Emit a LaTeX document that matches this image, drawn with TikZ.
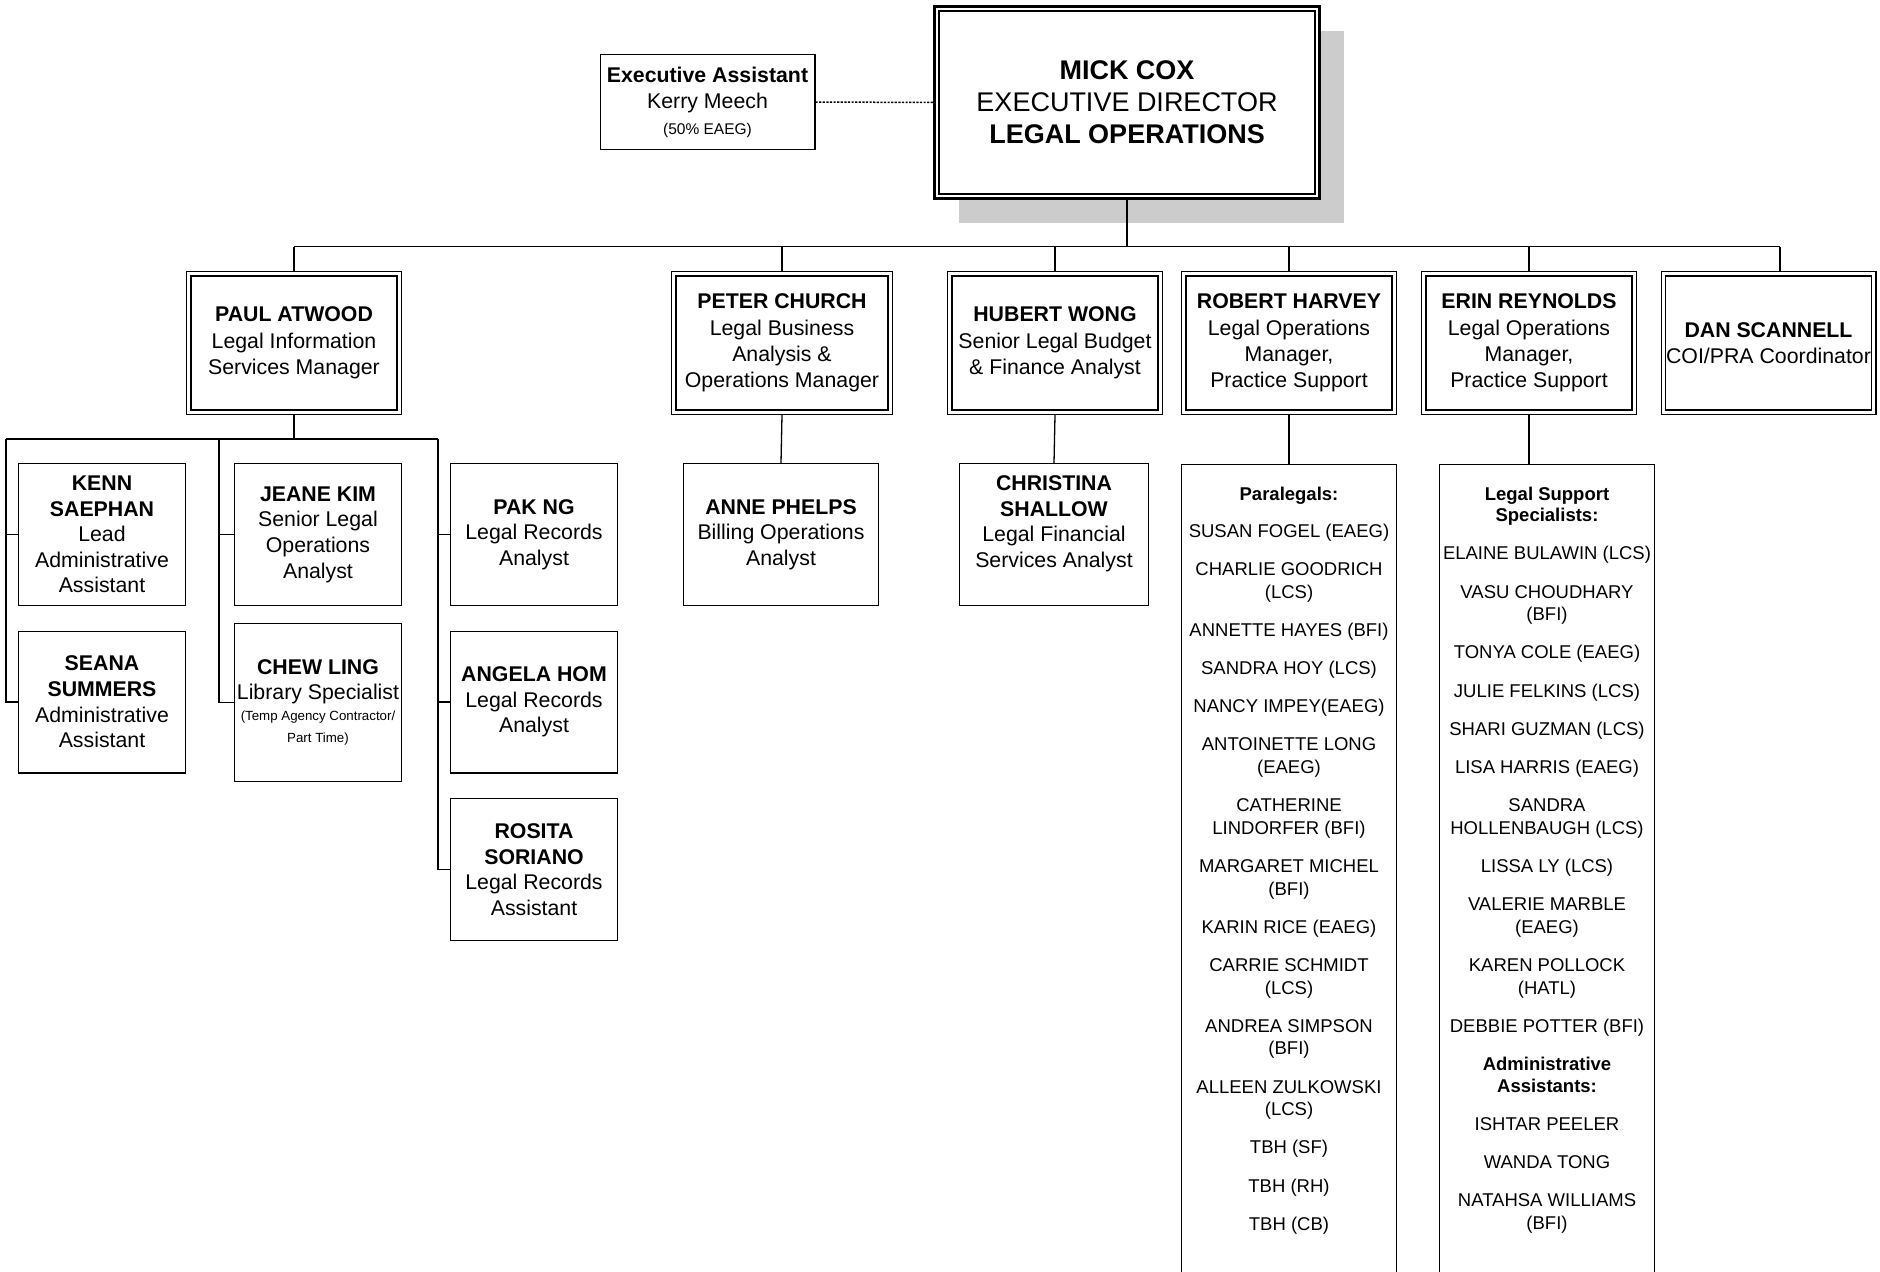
\documentclass[tikz,border=0pt]{standalone}
\usepackage{fontspec}
\setmainfont{Liberation Sans}
\usetikzlibrary{shadows}
\begin{document}
\begin{tikzpicture}[x=1pt,y=-1pt,
  conn/.style={line width=1.3pt},
  mgr/.style={draw, double, double distance=3pt, line width=1.3pt, fill=white, inner sep=0pt, outer sep=2.8pt,
    minimum width=210.4pt, minimum height=138.4pt, align=center, font=\fontsize{21.3}{26.4}\selectfont},
  staff/.style={draw, line width=1.3pt, fill=white, inner sep=0pt, outer sep=0.65pt,
    minimum width=166.7pt, minimum height=141.7pt, align=center, font=\fontsize{21.3}{25.6}\selectfont},
  listbox/.style={draw, line width=1.3pt, fill=white, inner sep=0pt, outer sep=0.65pt,
    minimum width=214.7pt, minimum height=840pt},
  listtext/.style={anchor=north, inner sep=0pt, align=center, font=\fontsize{18.5}{22.6}\selectfont}
]
\useasboundingbox (0,0) rectangle (1880,1272);
\fill[white] (0,0) rectangle (1880,1272);
\clip (0,0) rectangle (1880,1272);

% top
\node[draw, line width=3pt, fill=white, inner sep=0pt, outer sep=0pt,
  minimum width=385pt, minimum height=192pt, align=center,
  font=\fontsize{27}{31.8}\selectfont,
  drop shadow={shadow xshift=24.5pt, shadow yshift=-24pt, fill=black!20, opacity=1}]
  (mick) at (1127,102.5) {\textbf{MICK COX}\\EXECUTIVE DIRECTOR\\\textbf{LEGAL OPERATIONS}};
\draw[line width=2pt] ([xshift=4.5pt,yshift=-4.5pt]mick.north west) rectangle ([xshift=-4.5pt,yshift=4.5pt]mick.south east);

\node[draw, line width=1.3pt, fill=white, inner sep=0pt, outer sep=0.65pt,
  minimum width=214.7pt, minimum height=94.7pt, align=center,
  font=\fontsize{21.3}{26}\selectfont]
  (ea) at (707.5,102) {\textbf{Executive Assistant}\\Kerry Meech\\{\fontsize{15.5}{26}\selectfont (50\% EAEG)}};
\draw[line width=1.5pt, dash pattern=on 2.2pt off 1.4pt] (ea.east) -- (mick.west);

% managers
\node[mgr] (paul)   at (294,343)    {\textbf{PAUL ATWOOD}\\Legal Information\\Services Manager};
\node[mgr, minimum width=216.4pt] (peter) at (782,343) {\textbf{PETER CHURCH}\\Legal Business\\Analysis \&\\Operations Manager};
\node[mgr] (hubert) at (1055,343)   {\textbf{HUBERT WONG}\\Senior Legal Budget\\\& Finance Analyst};
\node[mgr] (robert) at (1289,343)   {\textbf{ROBERT HARVEY}\\Legal Operations\\Manager,\\Practice Support};
\node[mgr] (erin)   at (1529,343)   {\textbf{ERIN REYNOLDS}\\Legal Operations\\Manager,\\Practice Support};
\node[mgr] (dan)    at (1768.5,343) {\textbf{DAN SCANNELL}\\COI/PRA Coordinator};

\coordinate (busy) at (0,246.5);
\coordinate (dantop) at (1780,271);
\draw[conn] (mick.south) -- (mick.south |- busy);
\draw[conn] (paul.north |- busy) -- (dantop |- busy);
\foreach \m in {paul,peter,hubert,robert,erin}
  \draw[conn] (\m.north |- busy) -- (\m.north);
\draw[conn] (dantop |- busy) -- (dantop);

% Paul's staff
\node[staff] (kenn)   at (102,534.5) {\textbf{KENN}\\\textbf{SAEPHAN}\\Lead\\Administrative\\Assistant};
\node[staff] (seana)  at (102,702)   {\textbf{SEANA}\\\textbf{SUMMERS}\\Administrative\\Assistant};
\node[staff] (jeane)  at (318,534.5) {\textbf{JEANE KIM}\\Senior Legal\\Operations\\Analyst};
\node[staff, minimum height=157.7pt] (chew) at (318,702.5)
  {\textbf{CHEW LING}\\Library Specialist\\[-5pt]{\fontsize{13.3}{22.8}\selectfont (Temp Agency Contractor/}\\[-3pt]{\fontsize{13.3}{22.8}\selectfont Part Time)}};
\node[staff] (pak)    at (534,534.5) {\textbf{PAK NG}\\Legal Records\\Analyst};
\node[staff] (angela) at (534,702)   {\textbf{ANGELA HOM}\\Legal Records\\Analyst};
\node[staff] (rosita) at (534,869.5) {\textbf{ROSITA}\\\textbf{SORIANO}\\Legal Records\\Assistant};

\coordinate (c1) at (6,439);
\coordinate (c2) at (219,439);
\coordinate (c3) at (438,439);
\draw[conn] (paul.south) -- (paul.south |- c1);
\draw[conn] (c1) -- (c3);
\draw[conn] (c1) |- (seana.west);
\draw[conn] (c1 |- kenn.west) -- (kenn.west);
\draw[conn] (c2) |- (chew.west);
\draw[conn] (c2 |- jeane.west) -- (jeane.west);
\draw[conn] (c3) |- (rosita.west);
\draw[conn] (c3 |- pak.west) -- (pak.west);
\draw[conn] (c3 |- angela.west) -- (angela.west);

% Peter, Hubert staff
\node[staff, minimum width=194.7pt] (anne) at (781,534.5) {\textbf{ANNE PHELPS}\\Billing Operations\\Analyst};
\node[staff, minimum width=188.7pt] (christina) at (1054,534.5) {\textbf{CHRISTINA}\\\textbf{SHALLOW}\\Legal Financial\\Services Analyst\\\mbox{}};
\draw[conn] (peter.south) -- (anne.north);
\draw[conn] (hubert.south) -- (christina.north);

% lists
\node[listbox, anchor=north] (paral) at (1289,463.65) {};
\node[listbox, anchor=north] (lss)   at (1547,463.65) {};
\draw[conn] (robert.south) -- (robert.south |- paral.north);
\draw[conn] (erin.south) -- (erin.south |- lss.north);

\node[listtext] (paraltext) at (1289,486.5) {%
\textbf{Paralegals:}\\[14.5pt]
SUSAN FOGEL (EAEG)\\[15.6pt]
CHARLIE GOODRICH\\(LCS)\\[15.6pt]
ANNETTE HAYES (BFI)\\[15.6pt]
SANDRA HOY (LCS)\\[15.6pt]
NANCY IMPEY(EAEG)\\[15.6pt]
ANTOINETTE LONG\\(EAEG)\\[15.6pt]
CATHERINE\\LINDORFER (BFI)\\[15.6pt]
MARGARET MICHEL\\(BFI)\\[15.6pt]
KARIN RICE (EAEG)\\[15.6pt]
CARRIE SCHMIDT\\(LCS)\\[15.6pt]
ANDREA SIMPSON\\(BFI)\\[15.6pt]
ALLEEN ZULKOWSKI\\(LCS)\\[15.6pt]
TBH (SF)\\[15.6pt]
TBH (RH)\\[15.6pt]
TBH (CB)};

\node[listtext] (lsstext) at (1547,486.5) {%
\textbf{Legal Support}\\[-1pt]\textbf{Specialists:}\\[15.6pt]
ELAINE BULAWIN (LCS)\\[15.6pt]
VASU CHOUDHARY\\(BFI)\\[15.6pt]
TONYA COLE (EAEG)\\[15.6pt]
JULIE FELKINS (LCS)\\[15.6pt]
SHARI GUZMAN (LCS)\\[15.6pt]
LISA HARRIS (EAEG)\\[15.6pt]
SANDRA\\HOLLENBAUGH (LCS)\\[15.6pt]
LISSA LY (LCS)\\[15.6pt]
VALERIE MARBLE\\(EAEG)\\[15.6pt]
KAREN POLLOCK\\(HATL)\\[15.6pt]
DEBBIE POTTER (BFI)\\[15.6pt]
\textbf{Administrative}\\[-1pt]\textbf{Assistants:}\\[15.6pt]
ISHTAR PEELER\\[15.6pt]
WANDA TONG\\[15.6pt]
NATAHSA WILLIAMS\\(BFI)};
\end{tikzpicture}
\end{document}
